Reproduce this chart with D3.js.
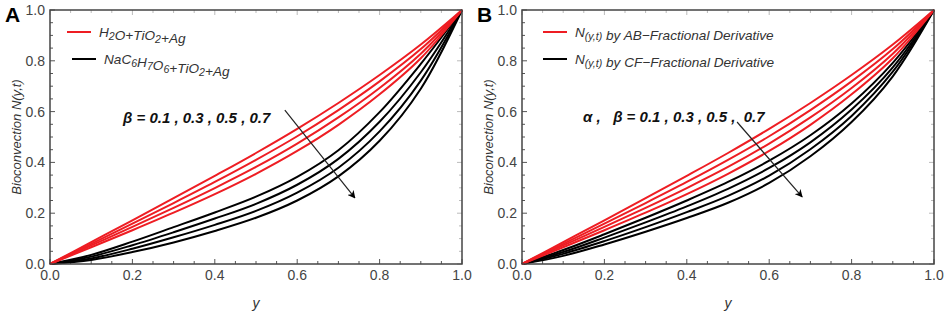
<!DOCTYPE html>
<html>
<head>
<meta charset="utf-8">
<script src="https://cdn.jsdelivr.net/npm/d3@7"></script>
<style>
  body { margin: 0; background: #fff; }
  text { font-family: "Liberation Sans", Arial, sans-serif; }
</style>
</head>
<body>
<div id="chart"></div>
<script>
// sample positions along y (x axis)
const yPos = [0, 0.1, 0.2, 0.3, 0.4, 0.5, 0.6, 0.7, 0.8, 0.9, 1.0];

// panel A : H2O+TiO2+Ag (red), beta = 0.1 .. 0.7
const redA = [
  [0, 0.086, 0.172, 0.259, 0.347, 0.437, 0.532, 0.634, 0.744, 0.864, 1],
  [0, 0.079, 0.159, 0.240, 0.323, 0.410, 0.503, 0.606, 0.719, 0.846, 1],
  [0, 0.073, 0.146, 0.221, 0.299, 0.382, 0.474, 0.577, 0.693, 0.828, 1],
  [0, 0.066, 0.133, 0.202, 0.275, 0.355, 0.445, 0.548, 0.668, 0.810, 1]
];
// panel A : NaC6H7O6+TiO2+Ag (black)
const blackA = [
  [0, 0.036, 0.088, 0.145, 0.203, 0.265, 0.343, 0.448, 0.598, 0.788, 1],
  [0, 0.029, 0.074, 0.125, 0.179, 0.237, 0.312, 0.414, 0.560, 0.755, 1],
  [0, 0.022, 0.060, 0.105, 0.154, 0.209, 0.281, 0.379, 0.522, 0.722, 1],
  [0, 0.016, 0.047, 0.085, 0.130, 0.182, 0.250, 0.345, 0.485, 0.690, 1]
];
// panel B : AB fractional derivative (red)
const redB = [
  [0, 0.086, 0.172, 0.259, 0.347, 0.437, 0.532, 0.634, 0.744, 0.864, 1],
  [0, 0.079, 0.159, 0.240, 0.323, 0.410, 0.503, 0.606, 0.719, 0.846, 1],
  [0, 0.073, 0.146, 0.221, 0.299, 0.382, 0.474, 0.577, 0.693, 0.828, 1],
  [0, 0.066, 0.133, 0.202, 0.275, 0.355, 0.445, 0.548, 0.668, 0.810, 1]
];
// panel B : CF fractional derivative (black)
const blackB = [
  [0, 0.055, 0.117, 0.182, 0.250, 0.323, 0.407, 0.507, 0.632, 0.792, 1],
  [0, 0.047, 0.104, 0.164, 0.227, 0.296, 0.378, 0.479, 0.608, 0.774, 1],
  [0, 0.040, 0.090, 0.145, 0.204, 0.268, 0.348, 0.452, 0.583, 0.757, 1],
  [0, 0.032, 0.077, 0.127, 0.181, 0.241, 0.319, 0.424, 0.559, 0.739, 1]
];

const majorTicks = [0, 0.2, 0.4, 0.6, 0.8, 1.0];
const minorTicks = d3.range(0, 1.0001, 0.05);

const legendA = ["H_{2}O+TiO_{2}+Ag", "NaC_{6}H_{7}O_{6}+TiO_{2}+Ag"];
const legendB = ["N_{(y,t)} by AB\u2212Fractional Derivative", "N_{(y,t)} by CF\u2212Fractional Derivative"];

const RED = "#ee1d23";

const W = 948, H = 312;
const svg = d3.select("#chart").append("svg")
  .attr("width", W).attr("height", H);

svg.append("defs").append("marker")
  .attr("id", "arrow")
  .attr("viewBox", "0 0 10 10")
  .attr("refX", 9).attr("refY", 5)
  .attr("markerWidth", 8).attr("markerHeight", 8)
  .attr("markerUnits", "userSpaceOnUse")
  .attr("orient", "auto")
  .append("path")
  .attr("d", "M0,0 L10,5 L0,10 L3,5 Z")
  .attr("fill", "#000");

// "_{..}" marks a subscript
function richText(sel, str) {
  const parts = str.split(/(_\{[^}]*\})/).filter(s => s.length);
  parts.forEach(p => {
    if (p.startsWith("_{")) {
      sel.append("tspan").attr("font-size", "0.78em").attr("dy", 3).text(p.slice(2, -1));
      sel.append("tspan").attr("dy", -3).text("");
    } else {
      sel.append("tspan").text(p);
    }
  });
}

function drawPanel(opt) {
  const w = 412, h = 254;
  const g = svg.append("g").attr("transform", `translate(${opt.left}, 10)`);

  const x = d3.scaleLinear().domain([0, 1]).range([0, w]);
  const y = d3.scaleLinear().domain([0, 1]).range([h, 0]);

  // ticks, inside, all four sides
  const tk = g.append("g").attr("stroke", "#555").attr("stroke-width", 1);
  minorTicks.forEach(t => {
    const big = majorTicks.some(m => Math.abs(m - t) < 1e-6);
    const L = big ? 5 : 3;
    tk.append("line").attr("x1", x(t)).attr("x2", x(t)).attr("y1", h).attr("y2", h - L);
    tk.append("line").attr("x1", x(t)).attr("x2", x(t)).attr("y1", 0).attr("y2", L).attr("stroke", "#bbb");
    tk.append("line").attr("x1", 0).attr("x2", L).attr("y1", y(t)).attr("y2", y(t));
    tk.append("line").attr("x1", w).attr("x2", w - L).attr("y1", y(t)).attr("y2", y(t)).attr("stroke", "#bbb");
  });

  const fmt = d3.format(".1f");
  g.selectAll(".xl").data(majorTicks).enter().append("text")
    .attr("x", d => x(d)).attr("y", h + 16)
    .attr("text-anchor", "middle").attr("font-size", 14).attr("fill", "#444")
    .text(fmt);
  g.selectAll(".yl").data(majorTicks).enter().append("text")
    .attr("x", -5).attr("y", d => y(d) + 5)
    .attr("text-anchor", "end").attr("font-size", 14).attr("fill", "#444")
    .text(fmt);

  // axis titles
  g.append("text").attr("x", w / 2).attr("y", h + 44)
    .attr("text-anchor", "middle").attr("font-size", 14).attr("font-style", "italic").attr("fill", "#333")
    .text("y");
  g.append("text").attr("transform", `translate(-29, ${h / 2}) rotate(-90)`)
    .attr("text-anchor", "middle").attr("font-size", 13).attr("font-style", "italic").attr("fill", "#333")
    .text("Bioconvection N(y,t)");

  const line = d3.line()
    .x((d, i) => x(yPos[i]))
    .y(d => y(d))
    .curve(d3.curveCatmullRom.alpha(0.5));

  opt.black.forEach(s => g.append("path").attr("d", line(s))
    .attr("fill", "none").attr("stroke", "#000").attr("stroke-width", 2));
  opt.red.forEach(s => g.append("path").attr("d", line(s))
    .attr("fill", "none").attr("stroke", RED).attr("stroke-width", 2));

  // frame
  g.append("rect").attr("width", w).attr("height", h)
    .attr("fill", "none").attr("stroke", "#444").attr("stroke-width", 1.5);

  // legend
  opt.legend.forEach((t, i) => {
    const ly = 22 + i * 27, lx = opt.legX + i * opt.legShift;
    g.append("line").attr("x1", lx).attr("x2", lx + 24).attr("y1", ly).attr("y2", ly)
      .attr("stroke", i === 0 ? RED : "#000").attr("stroke-width", 2);
    const tx = g.append("text").attr("x", lx + 32).attr("y", ly + 5)
      .attr("font-size", 13.6).attr("font-style", "italic").attr("fill", "#333");
    richText(tx, t);
  });

  // annotation + arrow
  g.append("text").attr("x", opt.note.x).attr("y", opt.note.y)
    .attr("font-size", 15).attr("font-weight", "bold").attr("font-style", "italic").attr("fill", "#111")
    .style("white-space", "pre")
    .text(opt.note.text);
  g.append("line")
    .attr("x1", x(opt.arrow[0])).attr("y1", y(opt.arrow[1]))
    .attr("x2", x(opt.arrow[2])).attr("y2", y(opt.arrow[3]))
    .attr("stroke", "#222").attr("stroke-width", 1.2)
    .attr("marker-end", "url(#arrow)");

  // panel letter
  svg.append("text").attr("x", opt.left - 45).attr("y", 22)
    .attr("font-size", 21).attr("font-weight", "bold").attr("fill", "#000")
    .text(opt.letter);
}

drawPanel({
  left: 50, letter: "A", red: redA, black: blackA,
  legend: legendA, legX: 17, legShift: 5,
  note: { x: 73, y: 113, text: "\u03B2 = 0.1 , 0.3 , 0.5 , 0.7" },
  arrow: [0.570, 0.606, 0.740, 0.260]
});
drawPanel({
  left: 522, letter: "B", red: redB, black: blackB,
  legend: legendB, legX: 21, legShift: 0,
  note: { x: 61, y: 112, text: "\u03B1 ,   \u03B2 = 0.1 , 0.3 , 0.5 ,  0.7" },
  arrow: [0.522, 0.559, 0.680, 0.264]
});
</script>
</body>
</html>
